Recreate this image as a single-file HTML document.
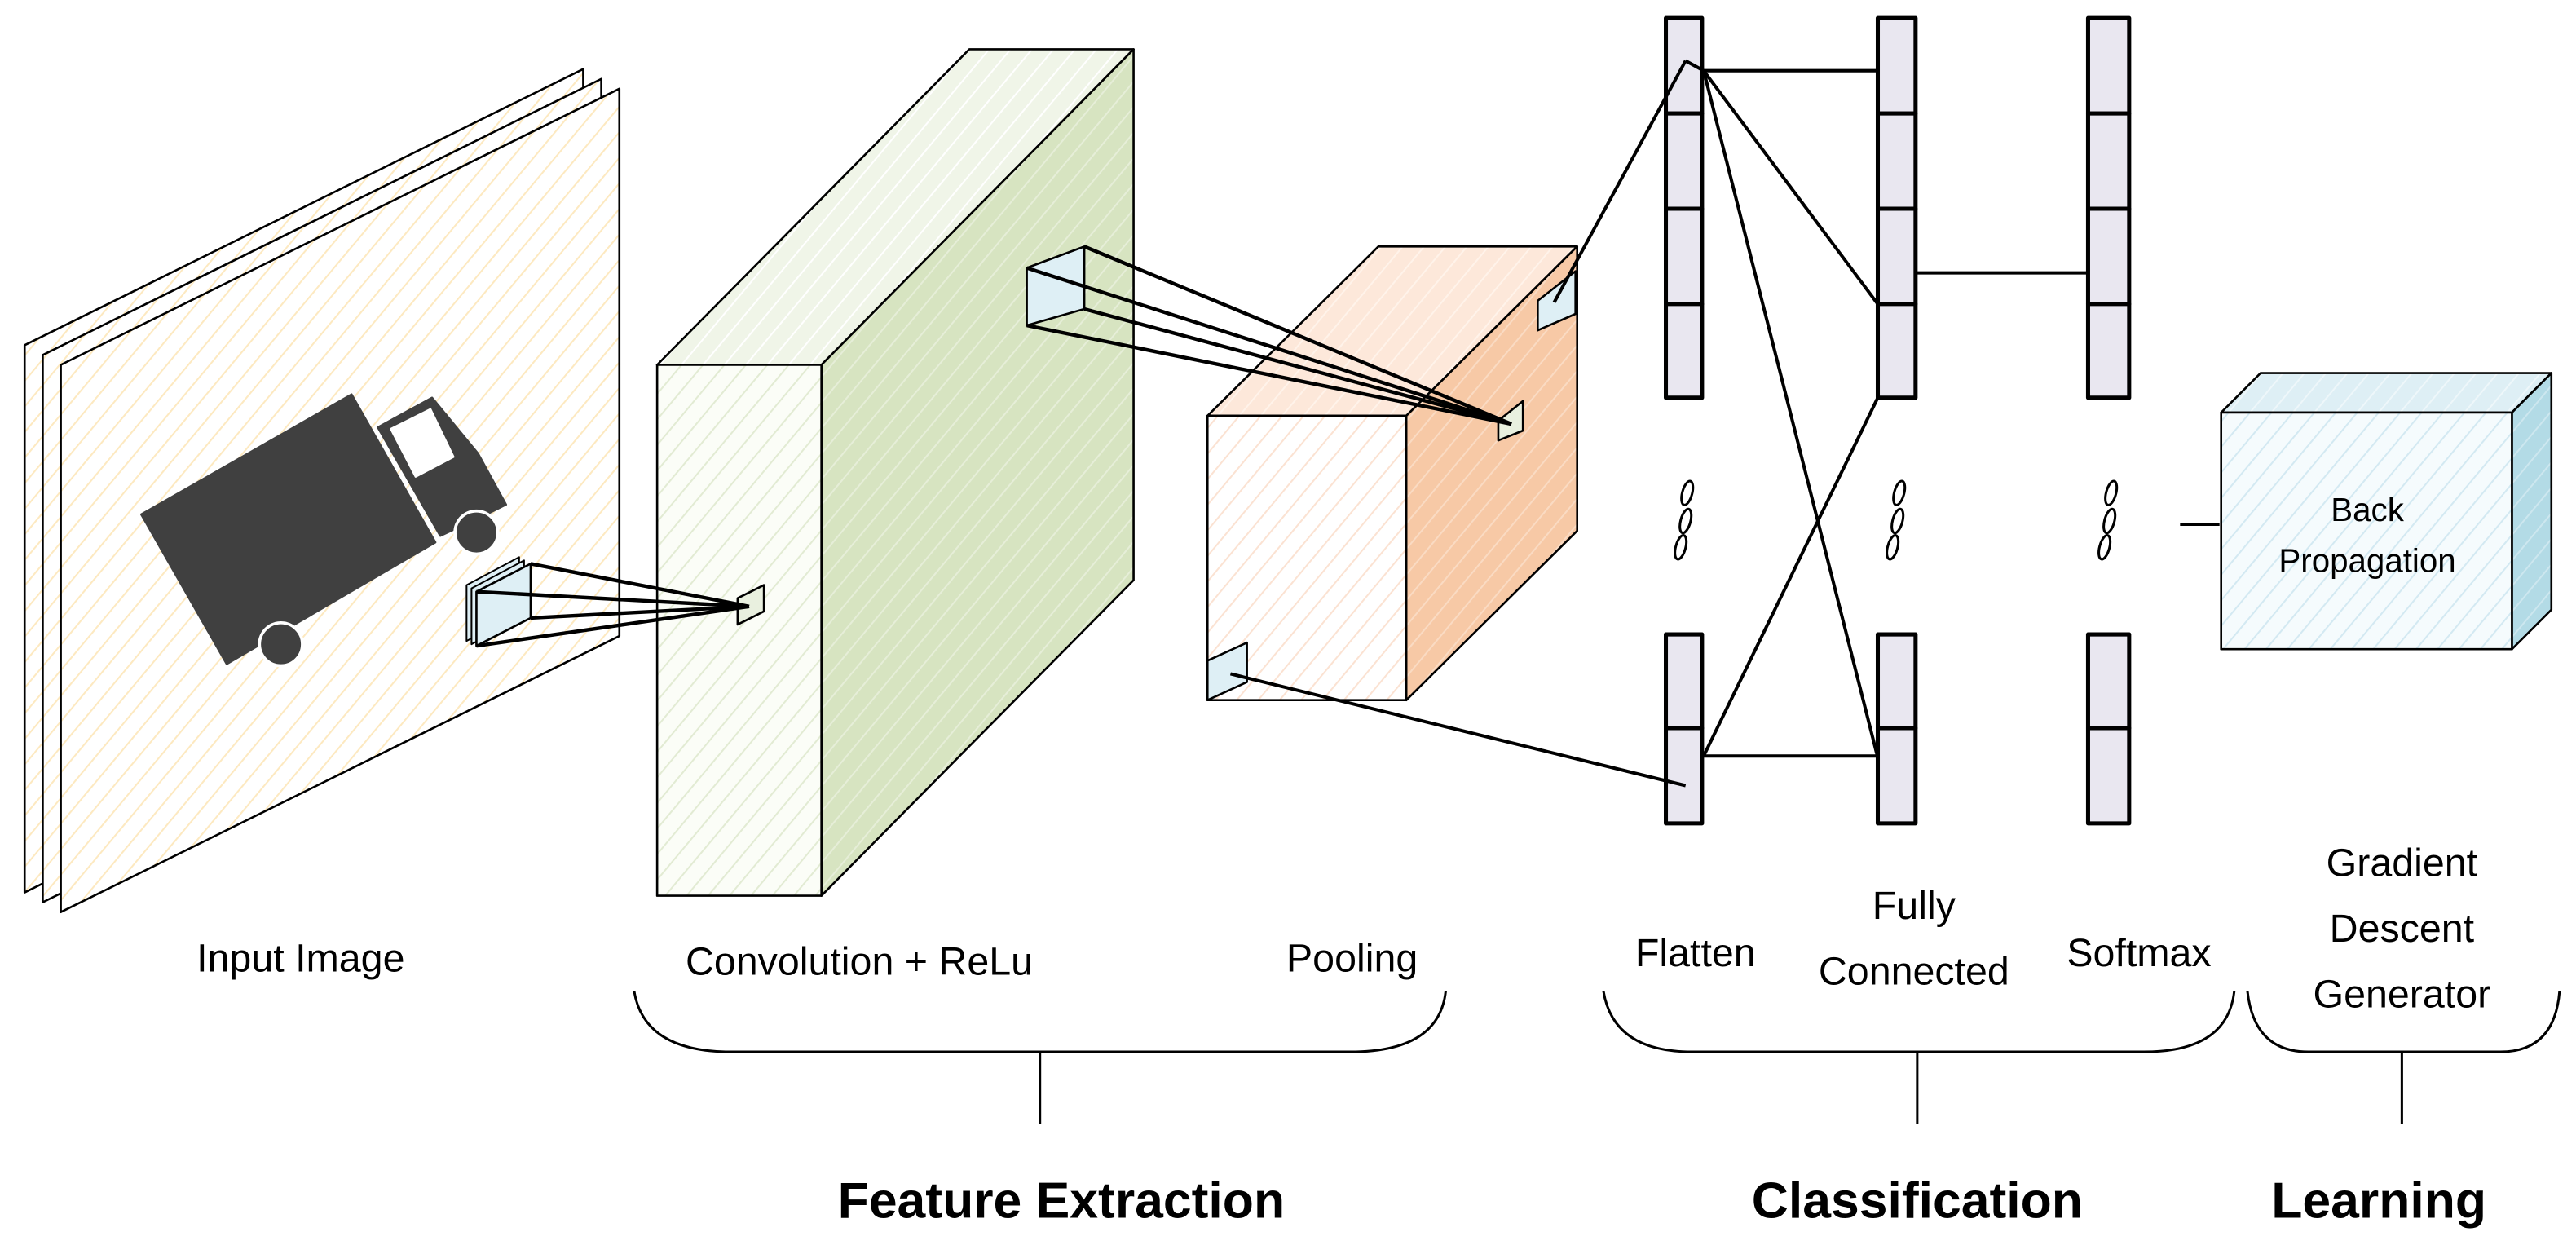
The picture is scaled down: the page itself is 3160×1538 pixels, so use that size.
<!DOCTYPE html>
<html><head><meta charset="utf-8"><style>
html,body{margin:0;padding:0;background:#fff;}
svg{display:block;}
text{font-family:"Liberation Sans",sans-serif;}
</style></head><body>
<svg width="3160" height="1538" viewBox="0 0 1568 763" preserveAspectRatio="none" xmlns="http://www.w3.org/2000/svg">
<defs>
<pattern id="py" width="10" height="10" patternUnits="userSpaceOnUse" patternTransform="rotate(40)"><rect width="10" height="10" fill="#fff"/><line x1="0" y1="0" x2="0" y2="10" stroke="#fde9c0" stroke-width="2"/></pattern>
<pattern id="pg1" width="10" height="10" patternUnits="userSpaceOnUse" patternTransform="rotate(40)"><rect width="10" height="10" fill="#fbfdf7"/><line x1="0" y1="0" x2="0" y2="10" stroke="#e2ebd3" stroke-width="2"/></pattern>
<pattern id="pg2" width="10" height="10" patternUnits="userSpaceOnUse" patternTransform="rotate(40)"><rect width="10" height="10" fill="#f0f5e8"/><line x1="0" y1="0" x2="0" y2="10" stroke="#fff" stroke-width="2"/></pattern>
<pattern id="pg3" width="10" height="10" patternUnits="userSpaceOnUse" patternTransform="rotate(40)"><rect width="10" height="10" fill="#d7e4c1"/><line x1="0" y1="0" x2="0" y2="10" stroke="#e6eed8" stroke-width="2"/></pattern>
<pattern id="po1" width="10" height="10" patternUnits="userSpaceOnUse" patternTransform="rotate(40)"><rect width="10" height="10" fill="#fff"/><line x1="0" y1="0" x2="0" y2="10" stroke="#fbe2d2" stroke-width="2"/></pattern>
<pattern id="po2" width="10" height="10" patternUnits="userSpaceOnUse" patternTransform="rotate(40)"><rect width="10" height="10" fill="#fde8da"/><line x1="0" y1="0" x2="0" y2="10" stroke="#fff3ea" stroke-width="2"/></pattern>
<pattern id="po3" width="10" height="10" patternUnits="userSpaceOnUse" patternTransform="rotate(40)"><rect width="10" height="10" fill="#f7c9a6"/><line x1="0" y1="0" x2="0" y2="10" stroke="#fadbc3" stroke-width="2"/></pattern>
<pattern id="pb1" width="10" height="10" patternUnits="userSpaceOnUse" patternTransform="rotate(40)"><rect width="10" height="10" fill="#f5fbfd"/><line x1="0" y1="0" x2="0" y2="10" stroke="#d3e9f2" stroke-width="2"/></pattern>
<pattern id="pb2" width="10" height="10" patternUnits="userSpaceOnUse" patternTransform="rotate(40)"><rect width="10" height="10" fill="#deeff5"/><line x1="0" y1="0" x2="0" y2="10" stroke="#eef7fa" stroke-width="2"/></pattern>
<pattern id="pb3" width="10" height="10" patternUnits="userSpaceOnUse" patternTransform="rotate(40)"><rect width="10" height="10" fill="#b3dbe6"/><line x1="0" y1="0" x2="0" y2="10" stroke="#cde7ef" stroke-width="2"/></pattern>
</defs>
<g stroke="#000" stroke-width="1.3" stroke-linejoin="round">
<polygon points="15,210 355,42 355,375 15,543" fill="url(#py)"/>
<polygon points="26,216 366,48 366,381 26,549" fill="url(#py)"/>
<polygon points="37,222 377,54 377,387 37,555" fill="url(#py)"/>
<polygon points="86,313 214,240 265,330 138,404" fill="#404040" stroke="#404040"/>
<polygon points="230,260 263,242 291,276 308,307 296,313 268,326" fill="#404040" stroke="#404040"/>
<polygon points="238,261 262,249 276,278 253,290" fill="#fff" stroke="#fff"/>
<circle cx="290" cy="324" r="14" fill="#fff" stroke="none"/>
<circle cx="290" cy="324" r="11.5" fill="#404040" stroke="#404040"/>
<circle cx="171" cy="392" r="14" fill="#fff" stroke="none"/>
<circle cx="171" cy="392" r="11.5" fill="#404040" stroke="#404040"/>
<polygon points="284,356 316,339 316,373 284,390" fill="#deeff5" stroke-width="1"/>
<polygon points="287,358 319,341 319,375 287,392" fill="#deeff5" stroke-width="1"/>
<polygon points="290,360 323,343 323,376 290,393" fill="#deeff5"/>
<polygon points="400,222 500,222 690,30 590,30" fill="url(#pg2)"/>
<polygon points="500,222 690,30 690,353 500,545" fill="url(#pg3)"/>
<rect x="400" y="222" width="100" height="323" fill="url(#pg1)"/>
<polygon points="449,364 465,356 465,372 449,380" fill="#e9f0df"/>
<g stroke-width="2.2"><line x1="323" y1="343" x2="456" y2="369"/><line x1="290" y1="360" x2="456" y2="369"/><line x1="323" y1="376" x2="456" y2="369"/><line x1="290" y1="393" x2="456" y2="369"/></g>
<polygon points="625,163 660,150 660,188 625,198" fill="#deeff5"/>
<polygon points="735,253 856,253 960,150 839,150" fill="url(#po2)"/>
<polygon points="856,253 960,150 960,323 856,426" fill="url(#po3)"/>
<rect x="735" y="253" width="121" height="173" fill="url(#po1)"/>
<polygon points="936,183 959,165 959,191 936,201" fill="#deeff5"/>
<polygon points="912,256 927,244 927,262 912,268" fill="#e9f0df"/>
<polygon points="735,402 759,391 759,415 735,426" fill="#deeff5"/>
<g stroke-width="2.2"><line x1="660" y1="150" x2="920" y2="258"/><line x1="625" y1="163" x2="920" y2="258"/><line x1="660" y1="188" x2="920" y2="258"/><line x1="625" y1="198" x2="920" y2="258"/></g>
<g fill="#e9e7f0" stroke-width="2.5">
<rect x="1014" y="11" width="22" height="58"/><rect x="1014" y="69" width="22" height="58"/><rect x="1014" y="127" width="22" height="58"/><rect x="1014" y="185" width="22" height="57"/>
<rect x="1014" y="386" width="22" height="57"/><rect x="1014" y="443" width="22" height="58"/>
<rect x="1143" y="11" width="23" height="58"/><rect x="1143" y="69" width="23" height="58"/><rect x="1143" y="127" width="23" height="58"/><rect x="1143" y="185" width="23" height="57"/>
<rect x="1143" y="386" width="23" height="57"/><rect x="1143" y="443" width="23" height="58"/>
<rect x="1271" y="11" width="25" height="58"/><rect x="1271" y="69" width="25" height="58"/><rect x="1271" y="127" width="25" height="58"/><rect x="1271" y="185" width="25" height="57"/>
<rect x="1271" y="386" width="25" height="57"/><rect x="1271" y="443" width="25" height="58"/>
</g>
<g stroke-width="2">
<line x1="946" y1="184" x2="1026" y2="37"/>
<line x1="749" y1="410" x2="1026" y2="478"/>
<line x1="1037" y1="43" x2="1143" y2="43"/>
<line x1="1026" y1="37" x2="1037" y2="43"/>
<line x1="1037" y1="43" x2="1143" y2="185"/>
<line x1="1037" y1="43" x2="1143" y2="461"/>
<line x1="1037" y1="460" x2="1143" y2="460"/>
<line x1="1037" y1="460" x2="1143" y2="242"/>
<line x1="1166" y1="166" x2="1271" y2="166"/>
<line x1="1327" y1="319" x2="1351" y2="319"/>
</g>
<g fill="#fff" stroke-width="1.5">
<ellipse cx="1027" cy="300" rx="3" ry="7.5" transform="rotate(15 1027 300)"/><ellipse cx="1026" cy="317" rx="3" ry="7.5" transform="rotate(15 1026 317)"/><ellipse cx="1023" cy="333" rx="3" ry="7.5" transform="rotate(15 1023 333)"/>
<ellipse cx="1156" cy="300" rx="3" ry="7.5" transform="rotate(15 1156 300)"/><ellipse cx="1155" cy="317" rx="3" ry="7.5" transform="rotate(15 1155 317)"/><ellipse cx="1152" cy="333" rx="3" ry="7.5" transform="rotate(15 1152 333)"/>
<ellipse cx="1285" cy="300" rx="3" ry="7.5" transform="rotate(15 1285 300)"/><ellipse cx="1284" cy="317" rx="3" ry="7.5" transform="rotate(15 1284 317)"/><ellipse cx="1281" cy="333" rx="3" ry="7.5" transform="rotate(15 1281 333)"/>
</g>
<polygon points="1352,251 1529,251 1553,227 1376,227" fill="url(#pb2)"/>
<polygon points="1529,251 1553,227 1553,371 1529,395" fill="url(#pb3)"/>
<rect x="1352" y="251" width="177" height="144" fill="url(#pb1)"/>
<g fill="none" stroke-width="1.5">
<path d="M386,603 Q392,640 445,640 L822,640 Q876,640 880,603"/>
<line x1="633" y1="640" x2="633" y2="684"/>
<path d="M976,603 Q982,640 1030,640 L1305,640 Q1356,640 1360,603"/>
<line x1="1167" y1="640" x2="1167" y2="684"/>
<path d="M1368,603 Q1372,640 1405,640 L1522,640 Q1555,640 1558,603"/>
<line x1="1462" y1="640" x2="1462" y2="684"/>
</g>
</g>
<g font-size="24" fill="#000" text-anchor="middle">
<text x="183" y="591">Input Image</text>
<text x="523" y="593">Convolution + ReLu</text>
<text x="823" y="591">Pooling</text>
<text x="1032" y="588">Flatten</text>
<text x="1165" y="559">Fully</text>
<text x="1165" y="599">Connected</text>
<text x="1302" y="588">Softmax</text>
<text x="1462" y="533">Gradient</text>
<text x="1462" y="573">Descent</text>
<text x="1462" y="613">Generator</text>
<text x="1441" y="317" font-size="20">Back</text>
<text x="1441" y="348" font-size="20">Propagation</text>
</g>
<g font-size="31" font-weight="bold" fill="#000" text-anchor="middle">
<text x="646" y="741">Feature Extraction</text>
<text x="1167" y="741">Classification</text>
<text x="1448" y="741">Learning</text>
</g>
</svg>
</body></html>
